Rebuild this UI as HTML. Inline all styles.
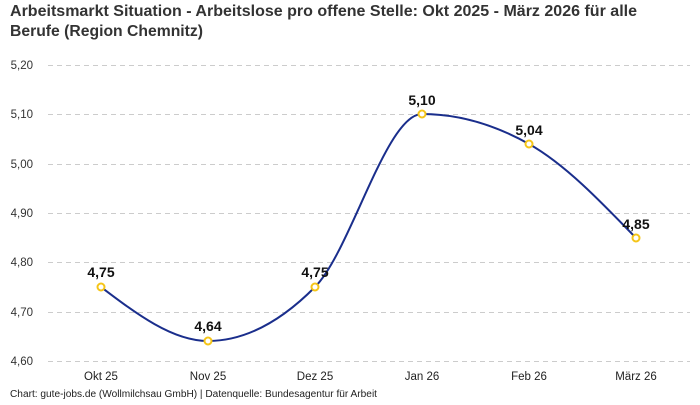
<!DOCTYPE html>
<html><head><meta charset="utf-8"><style>
body{margin:0;background:#fff;width:700px;height:400px;overflow:hidden;font-family:"Liberation Sans",sans-serif}
</style></head><body>
<svg width="700" height="400" xmlns="http://www.w3.org/2000/svg" font-family="Liberation Sans, sans-serif">
<text x="10" y="16" font-size="16" font-weight="bold" fill="#333" textLength="627" lengthAdjust="spacingAndGlyphs">Arbeitsmarkt Situation - Arbeitslose pro offene Stelle: Okt 2025 - März 2026 für alle</text>
<text x="10" y="36" font-size="16" font-weight="bold" fill="#333" textLength="193" lengthAdjust="spacingAndGlyphs">Berufe (Region Chemnitz)</text>
<g stroke="#ccc" stroke-dasharray="5,4" stroke-width="1">
<line x1="48" x2="690" y1="65.5" y2="65.5"/>
<line x1="48" x2="690" y1="114.5" y2="114.5"/>
<line x1="48" x2="690" y1="164.5" y2="164.5"/>
<line x1="48" x2="690" y1="213.5" y2="213.5"/>
<line x1="48" x2="690" y1="262.5" y2="262.5"/>
<line x1="48" x2="690" y1="312.5" y2="312.5"/>
<line x1="48" x2="690" y1="361.5" y2="361.5"/>
</g>
<g font-size="11.5" fill="#333" text-anchor="end">
<text x="33" y="69">5,20</text><text x="33" y="118">5,10</text><text x="33" y="168">5,00</text>
<text x="33" y="217">4,90</text><text x="33" y="266">4,80</text><text x="33" y="316">4,70</text><text x="33" y="365">4,60</text>
</g>
<g font-size="11.5" fill="#222" text-anchor="middle">
<text x="101" y="380">Okt 25</text><text x="208" y="380">Nov 25</text><text x="315" y="380">Dez 25</text>
<text x="422" y="380">Jan 26</text><text x="529" y="380">Feb 26</text><text x="636" y="380">März 26</text>
</g>
<path d="M101,287 C136.67,314 172.33,341 208,341 C243.67,341 279.33,323 315,287 C350.67,251 386.33,114 422,114 C457.67,114 493.33,124 529,144 C564.67,164 600.33,201 636,238" fill="none" stroke="#1a2e8c" stroke-width="2"/>
<g fill="#fff" stroke="#f5c518" stroke-width="2">
<circle cx="101" cy="287" r="3.5"/><circle cx="208" cy="341" r="3.5"/><circle cx="315" cy="287" r="3.5"/>
<circle cx="422" cy="114" r="3.5"/><circle cx="529" cy="144" r="3.5"/><circle cx="636" cy="238" r="3.5"/>
</g>
<g font-size="14" font-weight="bold" fill="#111" text-anchor="middle">
<text x="101" y="277">4,75</text><text x="208" y="331">4,64</text><text x="315" y="277">4,75</text>
<text x="422" y="105">5,10</text><text x="529" y="135">5,04</text><text x="636" y="229">4,85</text>
</g>
<text x="10" y="397" font-size="10" fill="#222" textLength="367" lengthAdjust="spacingAndGlyphs">Chart: gute-jobs.de (Wollmilchsau GmbH) | Datenquelle: Bundesagentur für Arbeit</text>
</svg>
</body></html>
